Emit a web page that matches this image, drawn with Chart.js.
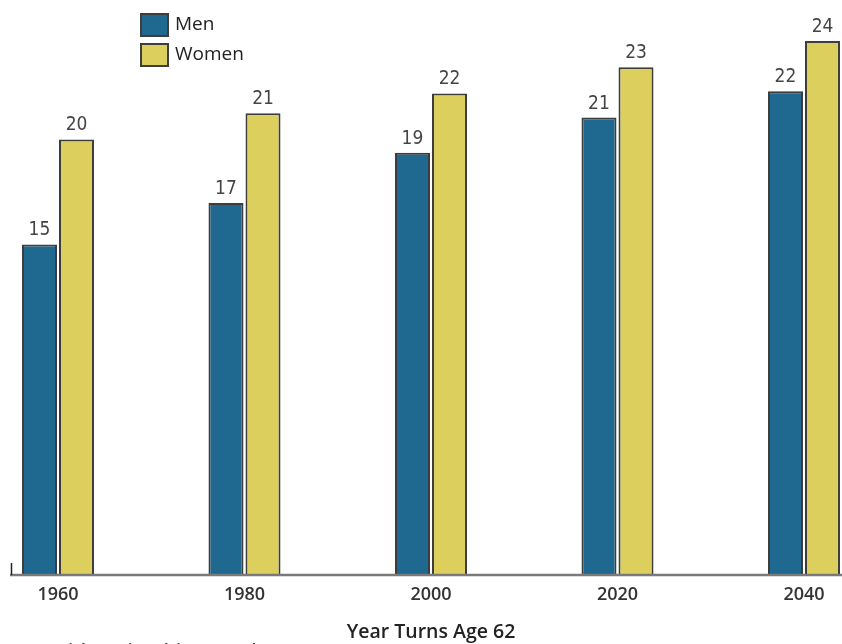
<!DOCTYPE html>
<html>
<head>
<meta charset="utf-8">
<script src="https://cdn.jsdelivr.net/npm/chart.js@4.4.0/dist/chart.umd.min.js"></script>
<style>
  html, body { margin:0; padding:0; background:#fff; }
  #wrap { width:842px; height:644px; position:relative; }
</style>
</head>
<body>
<div id="wrap"><canvas id="lifeChart"></canvas></div>
<script>
// Data
const years = ['1960', '1980', '2000', '2020', '2040']
const menYears = [15.1, 17.0, 19.3, 20.9, 22.1]
const womenYears = [19.9, 21.1, 22.0, 23.2, 24.4]
const seriesNames = ['Men', 'Women']
const axisTitle = 'Year Turns Age 62'
const sourceNote = 'Social Security Advisory Board (2011)'

const MEN_COLOR = '#1f6991'
const WOMEN_COLOR = '#dccf5e'
const EDGE = '#3d3d3d'

// value labels above each bar
const valueLabels = {
  id: 'valueLabels',
  afterDatasetsDraw(chart) {
    const ctx = chart.ctx
    ctx.save()
    ctx.font = '19px "Liberation Sans Narrow", "DejaVu Sans Condensed", sans-serif'
    ctx.fillStyle = '#444'
    ctx.textAlign = 'center'
    ctx.textBaseline = 'middle'
    chart.data.datasets.forEach((ds, i) => {
      chart.getDatasetMeta(i).data.forEach((bar, j) => {
        ctx.fillText(Math.round(ds.data[j]), bar.x, bar.y - 14)
      })
    })
    ctx.restore()
  }
}

// baseline, legend and source line
const decorations = {
  id: 'decorations',
  afterDatasetsDraw(chart) {
    const ctx = chart.ctx
    const base = chart.scales.y.getPixelForValue(0)
    ctx.save()
    ctx.strokeStyle = '#7a7a7a'
    ctx.lineWidth = 2.5
    ctx.beginPath(); ctx.moveTo(10, base); ctx.lineTo(842, base); ctx.stroke()
    ctx.strokeStyle = '#222'
    ctx.lineWidth = 1.5
    ctx.beginPath(); ctx.moveTo(11.5, base - 12); ctx.lineTo(11.5, base); ctx.stroke()

    // legend
    chart.data.datasets.forEach((ds, i) => {
      const y = 14 + i * 30
      ctx.fillStyle = ds.backgroundColor
      ctx.fillRect(141, y, 27, 22)
      ctx.strokeStyle = EDGE
      ctx.lineWidth = 2
      ctx.strokeRect(141, y, 27, 22)
      ctx.fillStyle = '#222'
      ctx.font = '19px "Open Sans", sans-serif'
      ctx.textAlign = 'left'
      ctx.textBaseline = 'middle'
      ctx.fillText(ds.label, 175, y + 11)
    })

    // source line, cut off by the bottom edge
    ctx.fillStyle = '#444'
    ctx.font = 'bold 14px "Open Sans", sans-serif'
    ctx.textBaseline = 'top'
    ctx.fillText(sourceNote, 45, 643)
    ctx.restore()
  }
}

function initChart() {
  const ctx = document.getElementById('lifeChart')
  new Chart(ctx, {
    type: 'bar',
    data: {
      labels: years,
      datasets: [
        { label: seriesNames[0], data: menYears, backgroundColor: MEN_COLOR },
        { label: seriesNames[1], data: womenYears, backgroundColor: WOMEN_COLOR }
      ]
    },
    options: {
      responsive: false,
      animation: false,
      devicePixelRatio: 1,
      layout: { padding: { left: 58, right: 38, top: 6, bottom: 0 } },
      datasets: {
        bar: {
          clip: false,
          borderColor: EDGE,
          borderWidth: 2,
          borderSkipped: 'bottom',
          categoryPercentage: 0.397,
          barPercentage: 0.946
        }
      },
      plugins: { legend: { display: false }, tooltip: { enabled: false } },
      scales: {
        x: {
          offset: false,
          grid: { display: false, drawTicks: false },
          border: { display: false },
          ticks: {
            color: '#333',
            padding: 9,
            maxRotation: 0,
            font: { family: '"Open Sans", sans-serif', size: 18, weight: '600' }
          },
          title: {
            display: true,
            text: axisTitle,
            color: '#222',
            padding: { top: 0, bottom: 0 },
            font: { family: '"Open Sans", sans-serif', size: 19.5, weight: '600' }
          },
          afterFit: s => { s.height = 69 }
        },
        y: {
          display: false,
          min: 0,
          max: 26
        }
      }
    },
    plugins: [valueLabels, decorations]
  })
}

const cv = document.getElementById('lifeChart')
cv.width = 842; cv.height = 644
document.addEventListener('DOMContentLoaded', initChart)
</script>
</body>
</html>
